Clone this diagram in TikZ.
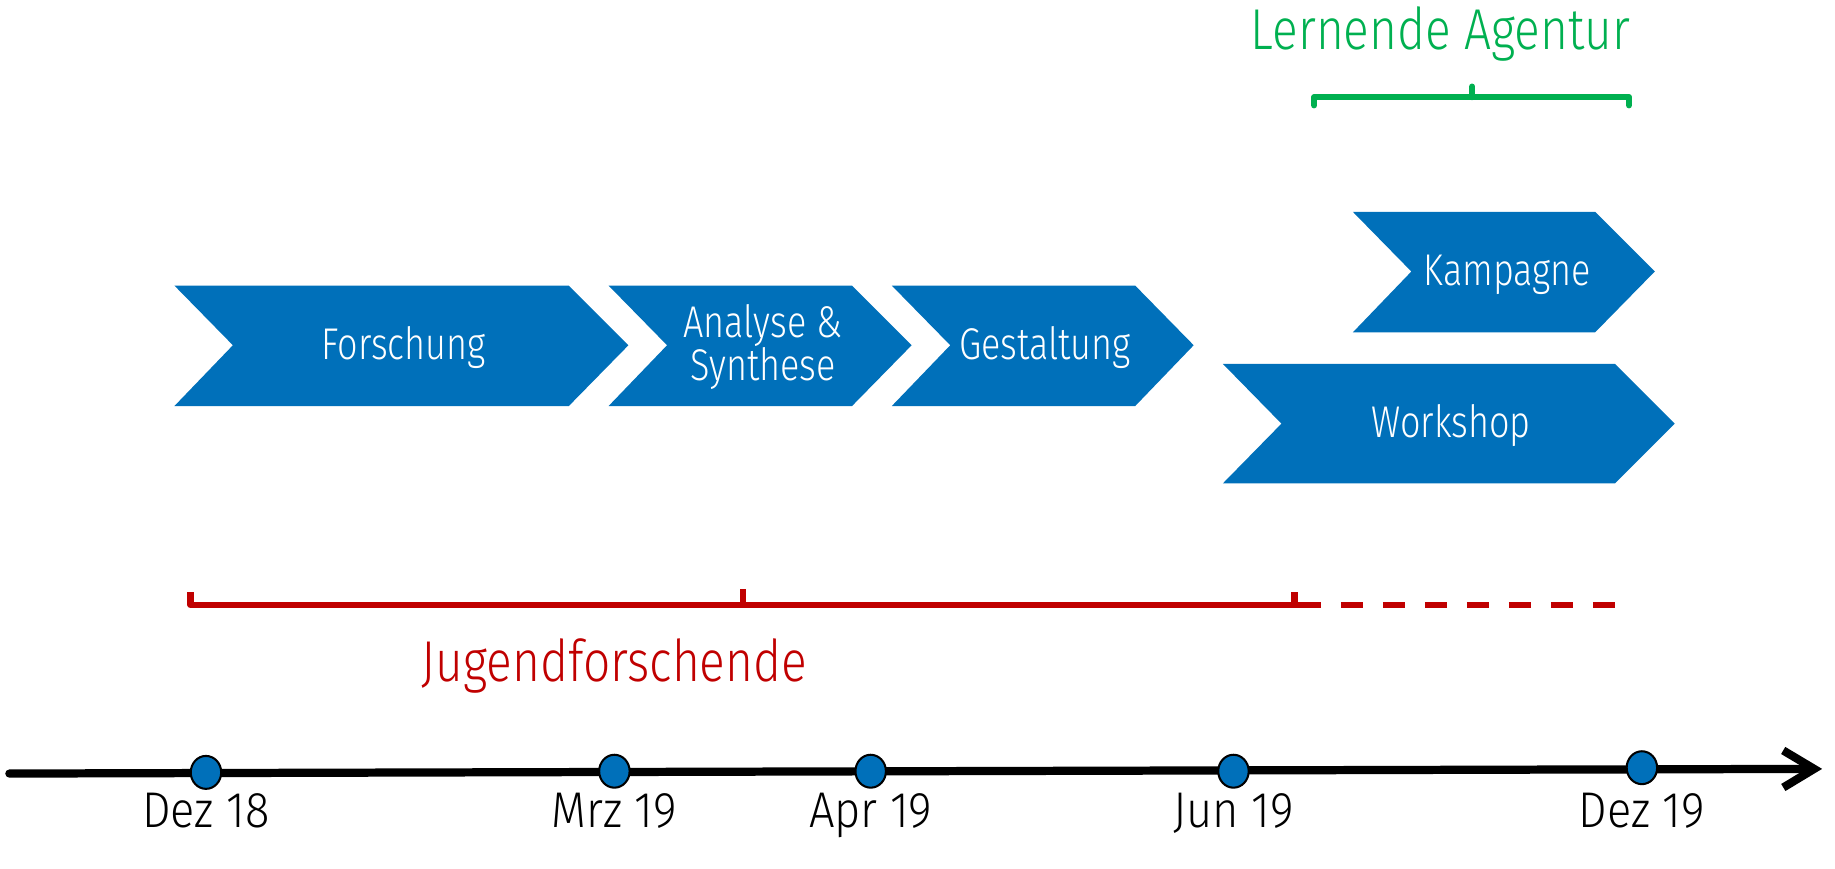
\documentclass[tikz,border=0pt]{standalone}
\usepackage{fontspec}
\setmainfont{Fira Sans}[UprightFont={* Light}, FakeStretch=0.81]
\newfontfamily\datefont{Fira Sans}[UprightFont={* Light}, FakeStretch=0.9]
\newfontfamily\groupfont{Fira Sans}[UprightFont={* Light}, FakeStretch=0.83]
\usepackage{tikz}
\usetikzlibrary{arrows.meta, shapes.geometric}

\definecolor{phase}{RGB}{0,112,186}
\definecolor{agentur}{RGB}{0,176,80}
\definecolor{jugend}{RGB}{192,0,0}

\tikzset{
  phasetext/.style={text=white, align=center, anchor=base, font=\fontsize{10.8}{10.6}\selectfont},
  datetext/.style={anchor=base, font=\datefont\fontsize{12.2}{12}\selectfont},
  grouptext/.style={anchor=base, font=\groupfont\fontsize{14}{14}\selectfont},
  dot/.style={ellipse, draw=black, fill=phase, line width=0.5pt, minimum width=7.4pt, minimum height=8pt}
}

\begin{document}
\begin{tikzpicture}[x=0.01cm,y=-0.01cm]
        \tikzstyle{every node}+=[inner sep=0pt]
        \useasboundingbox (0,0) rectangle (1568,742);
        % phases
        \fill [phase] (149,244) -- (486,244) -- (537,295) -- (486,347) -- (149,347) -- (199,295) -- cycle;
        \node [phasetext] (forschung) at (345,307) {Forschung};
        \fill [phase] (520,244) -- (728,244) -- (779,295) -- (728,347) -- (520,347) -- (570,295) -- cycle;
        \node [phasetext] (analyse) at (652,288) {Analyse \&};
        \node [phasetext] (synthese) at (652,325) {Synthese};
        \fill [phase] (762,244) -- (970,244) -- (1020,295) -- (970,347) -- (762,347) -- (812,295) -- cycle;
        \node [phasetext] (gestaltung) at (893,307) {Gestaltung};
        \fill [phase] (1156,181) -- (1363,181) -- (1414,232) -- (1363,284) -- (1156,284) -- (1206,232) -- cycle;
        \node [phasetext] (kampagne) at (1288,244) {Kampagne};
        \fill [phase] (1045,311) -- (1380,311) -- (1431,362) -- (1380,413) -- (1045,413) -- (1095,362) -- cycle;
        \node [phasetext] (workshop) at (1240,374) {Workshop};
        % Lernende Agentur
        \draw [agentur, line width=1.5pt, line join=round, line cap=round] (1123,90) -- (1123,83) -- (1392,83) -- (1392,90);
        \draw [agentur, line width=1.5pt, line cap=round] (1258,83) -- (1258,74);
        \node [grouptext, text=agentur] (agentur) at (1231,42) {Lernende Agentur};
        % Jugendforschende
        \draw [jugend, line width=1.6pt, line join=round] (163,506) -- (163,517) -- (1110,517);
        \draw [jugend, line width=1.6pt] (635,517) -- (635,503);
        \draw [jugend, line width=1.6pt] (1106,517) -- (1106,506);
        \draw [jugend, line width=1.6pt, dash pattern=on 5.4pt off 4.8pt] (1110,517) -- (1381,517);
        \node [grouptext, text=jugend] (jugend) at (525,582) {Jugendforschende};
        % timeline
        \coordinate (t0) at (8,661);
        \coordinate (t1) at (1557,657);
        \draw [line width=2pt, line cap=round, -{Straight Barb[length=7.5pt,width=9pt]}] (t0) -- (t1);
        \node [dot] (dez18) at (176,660) {};
        \node [dot] (mrz19) at (525,659) {};
        \node [dot] (apr19) at (744,659) {};
        \node [dot] (jun19) at (1054,659) {};
        \node [dot] (dez19) at (1403,656) {};
        \node [datetext] at (176,707) {Dez 18};
        \node [datetext] at (525,707) {Mrz 19};
        \node [datetext] at (744,707) {Apr 19};
        \node [datetext] at (1054,707) {Jun 19};
        \node [datetext] at (1403,707) {Dez 19};
\end{tikzpicture}
\end{document}
